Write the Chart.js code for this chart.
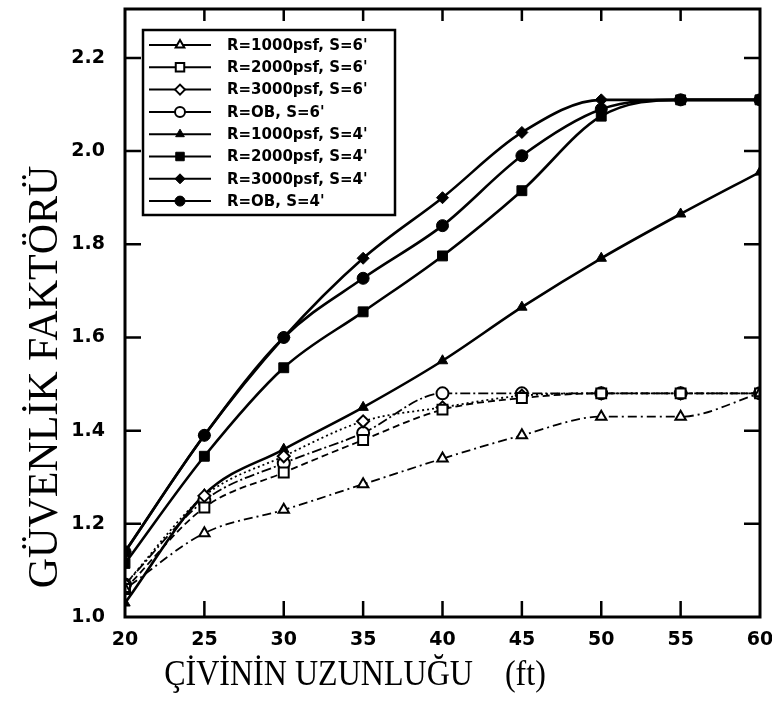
<!DOCTYPE html>
<html>
<head>
<meta charset="utf-8">
<script src="https://cdn.jsdelivr.net/npm/chart.js@4"></script>
<style>
  html, body { margin: 0; padding: 0; background: #fff; }
  #wrap { width: 772px; height: 705px; }
</style>
</head>
<body>
<div id="wrap"><canvas id="chart" width="772" height="705"></canvas></div>
<script>
// nail length (ft)
var xs = [20, 25, 30, 35, 40, 45, 50, 55, 60];
var xTicks = [20, 25, 30, 35, 40, 45, 50, 55, 60];
var yTicks = [1.0, 1.2, 1.4, 1.6, 1.8, 2.0, 2.2];

// S=6' series (open markers)
var r1000s6 = [1.06, 1.18, 1.23, 1.285, 1.34, 1.39, 1.43, 1.43, 1.48];
var r2000s6 = [1.06, 1.235, 1.31, 1.38, 1.445, 1.47, 1.48, 1.48, 1.48];
var r3000s6 = [1.07, 1.26, 1.345, 1.42, 1.45, 1.475, 1.48, 1.48, 1.48];
var rOBs6 = [1.07, 1.25, 1.33, 1.395, 1.48, 1.48, 1.48, 1.48, 1.48];
// S=4' series (filled markers)
var r1000s4 = [1.03, 1.263, 1.36, 1.45, 1.55, 1.665, 1.77, 1.865, 1.955];
var r2000s4 = [1.115, 1.345, 1.535, 1.655, 1.775, 1.915, 2.075, 2.11, 2.11];
var r3000s4 = [1.14, 1.39, 1.60, 1.77, 1.90, 2.04, 2.11, 2.11, 2.11];
var rOBs4 = [1.14, 1.39, 1.60, 1.727, 1.84, 1.99, 2.09, 2.11, 2.11];

var labels = ["R=1000psf, S=6'", "R=2000psf, S=6'", "R=3000psf, S=6'", "R=OB, S=6'",
              "R=1000psf, S=4'", "R=2000psf, S=4'", "R=3000psf, S=4'", "R=OB, S=4'"];
var series = [r1000s6, r2000s6, r3000s6, rOBs6, r1000s4, r2000s4, r3000s4, rOBs4];
var styles = ['triangle', 'rect', 'rectRot', 'circle', 'triangle', 'rect', 'rectRot', 'circle'];
var dashes = [[2, 4, 9, 4], [7, 4], [2, 3], [10, 3, 2, 3], [], [], [], []];

function toPoints(arr) {
    return arr.map(function (v, i) { return { x: xs[i], y: v }; });
}

var datasets = [];
series.forEach(function (arr, i) {
    var open = i < 4;
    datasets.push({
        label: labels[i],
        data: toPoints(arr),
        borderColor: '#000',
        borderWidth: open ? 1.8 : 2.6,
        borderDash: dashes[i],
        backgroundColor: open ? '#fff' : '#000',
        pointStyle: styles[i],
        pointRadius: styles[i] == 'rect' ? 7 : 6,
        pointBorderWidth: open ? 2 : 1,
        pointBackgroundColor: open ? '#fff' : '#000',
        pointBorderColor: '#000',
        cubicInterpolationMode: 'monotone',
        fill: false
    });
});

var framePlugin = {
    id: 'frame',
    afterDraw: function (chart) {
        var ctx = chart.ctx;
        var a = chart.chartArea;
        var xs_ = chart.scales.x, ys_ = chart.scales.y;
        ctx.save();
        ctx.strokeStyle = '#000';
        ctx.lineWidth = 3;
        ctx.strokeRect(a.left, a.top, a.right - a.left, a.bottom - a.top);
        ctx.lineWidth = 2.5;
        ctx.beginPath();
        xTicks.forEach(function (v) {
            var px = xs_.getPixelForValue(v);
            if (v == 20 || v == 60) return;
            ctx.moveTo(px, a.bottom); ctx.lineTo(px, a.bottom - 16);
            ctx.moveTo(px, a.top); ctx.lineTo(px, a.top + 12);
        });
        yTicks.forEach(function (v) {
            var py = ys_.getPixelForValue(v);
            if (v == 1.0) return;
            ctx.moveTo(a.left, py); ctx.lineTo(a.left + 16, py);
            ctx.moveTo(a.right, py); ctx.lineTo(a.right - 16, py);
        });
        ctx.stroke();

        // legend box
        var bx = 143, by = 30, bw = 252, bh = 185;
        ctx.fillStyle = '#fff';
        ctx.fillRect(bx, by, bw, bh);
        ctx.lineWidth = 2.5;
        ctx.strokeRect(bx, by, bw, bh);
        ctx.font = 'bold 15px "DejaVu Sans"';
        ctx.textBaseline = 'middle';
        ctx.textAlign = 'left';
        chart.data.datasets.forEach(function (ds, i) {
            var y = by + 15 + i * 22.3;
            ctx.strokeStyle = '#000';
            ctx.lineWidth = 2;
            ctx.setLineDash([]);
            ctx.beginPath();
            ctx.moveTo(bx + 6, y); ctx.lineTo(bx + 68, y);
            ctx.stroke();
            ctx.fillStyle = ds.pointBackgroundColor;
            ctx.lineWidth = ds.pointBorderWidth;
            Chart.helpers.drawPoint(ctx, {
                pointStyle: ds.pointStyle,
                radius: ds.pointStyle == 'rect' ? 6 : 5,
                rotation: 0,
                borderWidth: ds.pointBorderWidth
            }, bx + 37, y);
            ctx.fillStyle = '#000';
            ctx.fillText(ds.label, bx + 84, y + 1);
        });

        // axis titles
        ctx.fillStyle = '#000';
        ctx.textAlign = 'center';
        ctx.textBaseline = 'middle';
        ctx.save();
        ctx.translate(46, 377);
        ctx.rotate(-Math.PI / 2);
        ctx.font = '42px "Liberation Serif"';
        ctx.fillText('GÜVENLİK FAKTÖRÜ', 0, 0);
        ctx.restore();

        ctx.save();
        ctx.translate(355, 676);
        ctx.scale(0.89, 1);
        ctx.font = '36px "Liberation Serif"';
        ctx.fillText('ÇİVİNİN UZUNLUĞU    (ft)', 0, 0);
        ctx.restore();
        ctx.restore();
    }
};

var tickFont = { family: 'DejaVu Sans', weight: 'bold', size: 19 };

var myChart = new Chart(document.getElementById('chart').getContext('2d'), {
    type: 'line',
    data: { datasets: datasets },
    options: {
        responsive: false,
        animation: false,
        layout: { padding: { left: 0, right: 12, top: 7, bottom: 0 } },
        plugins: { legend: { display: false }, tooltip: { enabled: false } },
        scales: {
            x: {
                type: 'linear',
                min: 20,
                max: 60,
                afterBuildTicks: function (s) { s.ticks = xTicks.map(function (v) { return { value: v }; }); },
                afterFit: function (s) { s.height = 88; s.paddingLeft = 0; s.paddingRight = 0; },
                grid: { display: false, drawTicks: false },
                border: { display: false },
                ticks: { padding: 12, font: tickFont, color: '#000', maxRotation: 0, autoSkip: false }
            },
            y: {
                min: 1.0,
                max: 2.305,
                afterBuildTicks: function (s) { s.ticks = yTicks.map(function (v) { return { value: v }; }); },
                afterFit: function (s) { s.width = 125; s.paddingTop = 0; s.paddingBottom = 0; },
                grid: { display: false, drawTicks: false },
                border: { display: false },
                ticks: {
                    padding: 20, font: tickFont, color: '#000', autoSkip: false,
                    callback: function (v) { return Number(v).toFixed(1); }
                }
            }
        }
    },
    plugins: [framePlugin]
});
</script>
</body>
</html>
